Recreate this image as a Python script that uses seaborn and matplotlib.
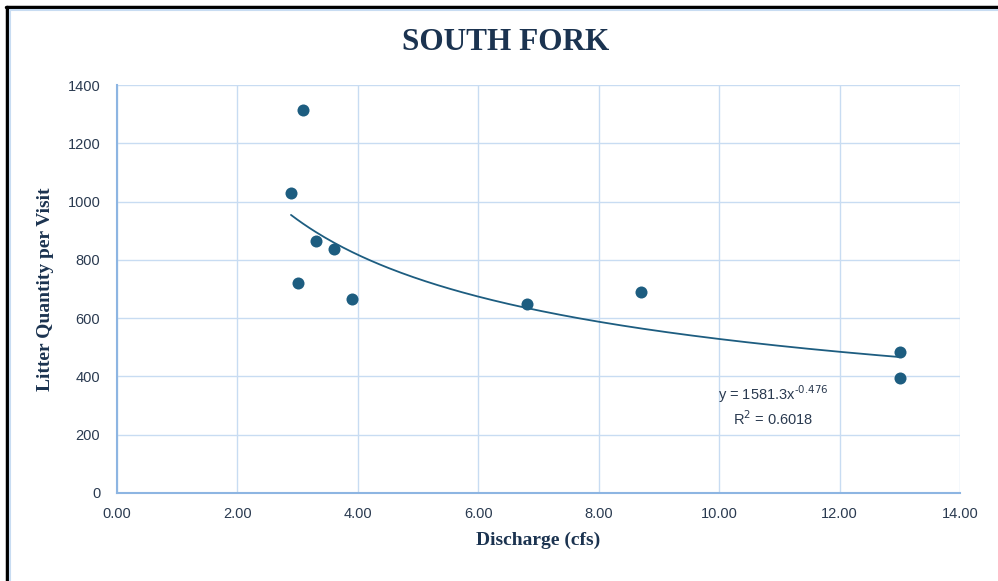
import numpy as np
import pandas as pd
import matplotlib
matplotlib.use("Agg")
import matplotlib.pyplot as plt
import seaborn as sns
from matplotlib.lines import Line2D

# Data
discharge = [3.09, 2.89, 3.01, 3.30, 3.60, 3.90, 6.81, 8.70, 13.0, 13.0]
litter = [1314, 1029, 720, 865, 837, 666, 649, 690, 484, 395]
fit_a = 1581.3
fit_b = -0.476
r_squared = 0.6018
x_ticks = [0, 2, 4, 6, 8, 10, 12, 14]
y_ticks = [0, 200, 400, 600, 800, 1000, 1200, 1400]

sns.set_theme(style="white")
plt.rcParams['font.family'] = ['Liberation Sans', 'DejaVu Sans']

navy = "#1B3350"
point_color = "#1D5D80"
grid_color = "#C8DCF2"
spine_color = "#8DB5E2"

fig = plt.figure(figsize=(9.98, 5.81), dpi=100)
ax = fig.add_axes([0.1172, 0.1515, 0.9619 - 0.1172, 0.8537 - 0.1515])

df = pd.DataFrame({"Discharge": discharge, "Litter": litter})
xs = np.linspace(min(discharge), max(discharge), 200)
trend = pd.DataFrame({"x": xs, "y": fit_a * xs ** fit_b})

sns.lineplot(data=trend, x="x", y="y", ax=ax, color=point_color, linewidth=1.3, zorder=3)
sns.scatterplot(data=df, x="Discharge", y="Litter", ax=ax, color=point_color,
                s=75, edgecolor=point_color, linewidth=0, zorder=4)

ax.set_xlim(0, 14)
ax.set_ylim(0, 1400)
ax.set_xticks(x_ticks)
ax.set_xticklabels([f"{v:.2f}" for v in x_ticks])
ax.set_yticks(y_ticks)
ax.set_yticklabels([str(v) for v in y_ticks])
ax.grid(True, color=grid_color, linewidth=1.0)
ax.set_axisbelow(True)
for side in ["top", "right"]:
    ax.spines[side].set_visible(False)
for side in ["left", "bottom"]:
    ax.spines[side].set_color(spine_color)
    ax.spines[side].set_linewidth(1.5)
ax.tick_params(axis="both", length=0, labelsize=10.5, labelcolor="#2A3A50")
ax.tick_params(axis="x", pad=10)
ax.tick_params(axis="y", pad=12)

ax.set_xlabel("Discharge (cfs)", family=["Liberation Serif"], fontweight="bold",
              fontsize=14, color=navy, labelpad=8)
ax.set_ylabel("Litter Quantity per Visit", family=["Liberation Serif"], fontweight="bold",
              fontsize=14, color=navy, labelpad=10)
fig.text(0.5065, 0.926, "SOUTH FORK", family=["Liberation Serif"], fontweight="bold",
         fontsize=22.5, color=navy, ha="center", va="center")

ax.text(10.9, 222, f"y = {fit_a}x$^{{\\text{{{fit_b}}}}}$\nR$^2$ = {r_squared}", ha="center",
        va="bottom", fontsize=10.5, color="#2A3A50", linespacing=1.3)

# figure frame
fig.add_artist(Line2D([0.007, 0.007], [0, 0.988], transform=fig.transFigure, color="black", lw=2.5))
fig.add_artist(Line2D([0.006, 1.0], [0.988, 0.988], transform=fig.transFigure, color="black", lw=2.5))
fig.add_artist(Line2D([0.0105, 0.0105], [0, 0.982], transform=fig.transFigure, color=grid_color, lw=1.5))
fig.add_artist(Line2D([0.0105, 1.0], [0.982, 0.982], transform=fig.transFigure, color=grid_color, lw=1.5))

fig.savefig("out.png", dpi=100)
